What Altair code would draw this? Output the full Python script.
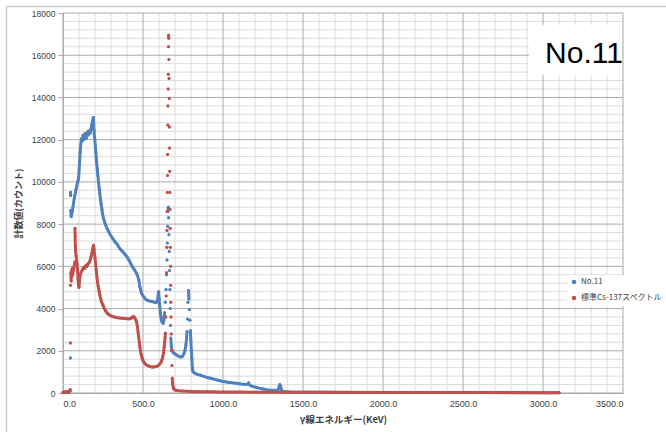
import altair as alt
import pandas as pd

series_names = ["No.11", "標準Cs-137スペクトル"]
series_colors = ["#4F81BD", "#C0504D"]

no11_energy = [0, 10, 20, 30, 40, 44, 46,
    47, 48, 49, 51, 54, 58, 62, 66, 70, 74, 78, 82, 86, 90, 94, 98, 101, 104, 107, 110, 113,
    117, 121, 125, 129, 133, 137, 141, 145, 149, 153, 157, 161, 165, 169, 173, 177, 181, 184,
    187, 190, 192, 194, 196, 199, 202, 205, 208, 211, 214, 218, 222, 226, 230, 234, 238, 243,
    248, 254, 260, 267, 275, 285, 297, 310, 323, 337, 350, 362, 375, 388, 400, 412, 424, 436,
    448, 458, 466, 474, 480, 486, 492, 500, 510, 520, 530, 545, 560, 575, 585, 592, 596, 598,
    601, 605, 610, 615, 620, 625, 630, 635, 639,
    644, 647, 650, 652, 654, 656, 658, 660, 662, 664, 666, 668, 670, 672, 674, 677,
    682, 690, 700, 710, 720, 730, 740, 748, 755, 762, 768, 772, 775,
    778, 781, 784, 787, 790, 793, 796, 799, 802, 805, 808, 811,
    815, 825, 840, 860, 880, 900, 920, 940, 960, 980, 1000, 1020, 1040, 1060, 1080, 1100,
    1120, 1140, 1155, 1160, 1165, 1175, 1190, 1210, 1230, 1250, 1270, 1290, 1310, 1330,
    1345, 1350, 1355, 1360, 1365, 1372, 1385, 1420, 1500, 1600, 1800, 2000, 2200, 2400,
    2600, 2800, 3000, 3100]
no11_count = [30, 30, 35, 40, 50, 80, 1660,
    9500, 9350, 8650, 8350, 8450, 8600, 8800, 9000, 9200, 9350, 9500, 9650, 9800, 9950, 10050,
    10200, 10600, 11000, 11400, 11700, 11900,
    12050, 11950, 12200, 12000, 12250, 12100, 12300, 12050, 12300, 12200, 12400, 12250, 12350,
    12300, 12450, 12600, 12750, 12850,
    12950, 13050, 12750, 12450, 12200, 12000, 11700, 11400, 11100, 10850, 10600, 10300, 10000,
    9700, 9450, 9200, 8950, 8700,
    8450, 8250, 8100, 7950, 7800, 7650, 7480, 7330, 7180, 7060, 6900, 6780, 6680, 6560, 6450,
    6300, 6120, 5950,
    5820, 5680, 5550, 5350, 5050, 4850, 4700, 4600, 4500, 4420, 4380, 4350, 4330, 4280, 4300,
    4450, 4700, 4800,
    4450, 4100, 3700, 3450, 3350, 3300, 3420, 3800, 4300,
    4900, 5600, 6300, 7100, 7900, 8600, 8800, 8300, 7500, 6700, 5800, 4900, 4000, 3200, 2600, 2200,
    2000, 1900, 1850, 1800, 1750, 1720, 1700, 1750, 1850, 2000, 2250, 2550, 2900,
    3500, 4300, 4850, 4450, 3950, 3450, 2950, 2500, 2050, 1650, 1250, 1050,
    980, 930, 880, 840, 790, 740, 700, 660, 620, 580, 550, 520, 500, 480, 460, 440,
    420, 400, 420, 480, 400, 340, 300, 260, 220, 190, 160, 140, 130, 120,
    160, 300, 400, 320, 160, 80, 55, 45, 40, 35, 30, 25, 22, 20,
    18, 16, 15, 14]

cs_energy = [0, 5, 10, 15, 20, 25, 30, 35, 40, 43, 45, 46,
    47, 49, 51, 53, 55, 58, 61, 64, 67, 70, 73, 75, 76, 77, 79, 82, 85, 88, 91, 94, 97, 100,
    103, 106, 110, 115, 120, 125, 130, 135, 140, 145, 150, 155, 160, 165, 170, 175, 180, 184,
    188, 191, 194, 197, 200, 204, 208, 212, 216, 220, 225, 230, 236, 242, 250, 258, 267, 276,
    286, 298, 310, 325, 340, 355, 370, 385, 400, 415, 425, 435, 442, 448, 454, 460, 465, 469,
    473, 477, 481, 485, 490, 495, 500, 508, 516, 525, 535, 545, 555, 565, 575, 585, 595, 605,
    612, 618, 623, 628, 632, 636, 640,
    643, 645, 647, 649, 650, 651, 652, 653, 654, 655, 656, 657, 658, 659, 660, 661, 662, 663,
    664, 665, 666, 667, 668, 669, 670, 671, 672, 673, 674, 675, 677, 679, 681, 683,
    686, 690, 695, 700, 720, 750, 800, 850, 900, 1000, 1100, 1200, 1400, 1600, 1800, 2000,
    2200, 2400, 2600, 2800, 3000, 3100]
cs_count = [20, 40, 30, 50, 40, 60, 50, 70, 60, 100, 160, 2370,
    5100, 5700, 5300, 5800, 5500, 5900, 5600, 5800, 5900, 6000, 6200, 7800, 7400, 7000, 6700,
    6500, 6300, 6100, 5800, 5400, 5100, 5000,
    5300, 5500, 5650, 5750, 5800, 5900, 5950, 5900, 6000, 6050, 6000, 6100, 6150, 6200, 6300,
    6450, 6600, 6750,
    6900, 7000, 6800, 6600, 6400, 6100, 5800, 5500, 5250, 5050, 4850, 4650, 4450, 4300, 4150,
    4000, 3880, 3780,
    3720, 3660, 3620, 3590, 3560, 3550, 3540, 3530, 3520, 3510, 3540, 3600, 3620, 3560, 3480,
    3350, 3150, 2900,
    2650, 2400, 2150, 1950, 1780, 1640, 1540, 1430, 1360, 1310, 1280, 1250, 1230, 1230, 1240,
    1260, 1300, 1370,
    1450, 1560, 1700, 1880, 2150, 2450, 2830,
    3600, 4600, 5700, 6900, 7700, 8600, 9500, 10300, 11300, 12700, 13600, 14400, 15100, 16400,
    16950, 16800, 15800, 14900,
    13950, 12600, 11600, 10500, 9500, 8700, 7800, 6900, 6000, 5100, 4300, 3600, 2800, 2000,
    1300, 700,
    380, 230, 170, 140, 110, 90, 75, 65, 58, 50, 45, 40, 35, 30, 28, 25,
    23, 21, 20, 18, 16, 15]

x_major = [0, 500, 1000, 1500, 2000, 2500, 3000, 3500]
x_minor = [100, 200, 300, 400, 600, 700, 800, 900, 1100, 1200, 1300, 1400, 1600, 1700, 1800,
           1900, 2100, 2200, 2300, 2400, 2600, 2700, 2800, 2900, 3100, 3200, 3300, 3400]
y_major = [0, 2000, 4000, 6000, 8000, 10000, 12000, 14000, 16000, 18000]
y_minor = [400, 800, 1200, 1600, 2400, 2800, 3200, 3600, 4400, 4800, 5200, 5600, 6400, 6800,
           7200, 7600, 8400, 8800, 9200, 9600, 10400, 10800, 11200, 11600, 12400, 12800, 13200,
           13600, 14400, 14800, 15200, 15600, 16400, 16800, 17200, 17600]

x_title = "γ線エネルギー(KeV)"
y_title = "計数値(カウント)"
label_text = ["No.11"]

df = pd.concat([
    pd.DataFrame({"energy": no11_energy, "cnt": no11_count, "series": series_names[0]}),
    pd.DataFrame({"energy": cs_energy, "cnt": cs_count, "series": series_names[1]}),
], ignore_index=True)

xscale = alt.Scale(domain=[0, 3500], nice=False, zero=False)
yscale = alt.Scale(domain=[0, 18000], nice=False)
cscale = alt.Scale(domain=series_names, range=series_colors)

MAJOR = "#a9a9a9"
MINOR = "#dcdcdc"

xaxis = alt.Axis(values=x_major, format=".1f", grid=False, ticks=False, labelPadding=6,
                 labelFont="Liberation Sans", labelFontSize=9, labelColor="#404040",
                 domainColor=MAJOR, title=x_title, titleFont="Noto Sans CJK JP",
                 titleFontSize=9.5, titleFontWeight="bold", titleColor="#404040",
                 titleX=280, titleY=26, titleBaseline="middle", titleAlign="center")
yaxis = alt.Axis(values=y_major, format="d", grid=False, tickSize=5, tickColor=MAJOR,
                 labelPadding=3, labelFont="Liberation Sans", labelFontSize=8.5,
                 labelColor="#404040", domainColor=MAJOR, title=y_title,
                 titleFont="Noto Sans CJK JP", titleFontSize=9, titleFontWeight="bold",
                 titleColor="#404040", titleX=-45, titleY=190, titleAngle=-90,
                 titleAlign="center", titleBaseline="middle")

legend = alt.Legend(
    title=None, orient="none", legendX=504, legendY=262, symbolType="circle",
    symbolSize=10, labelFont="Noto Sans CJK JP", labelFontSize=8,
    labelColor="#404040", fillColor="white", padding=3, rowPadding=6,
    labelOffset=3, labelLimit=200)

def vrules(vals, color):
    return alt.Chart(pd.DataFrame({"g": vals})).mark_rule(color=color, strokeWidth=1).encode(
        x=alt.X("g:Q", scale=xscale, axis=xaxis))

def hrules(vals, color):
    return alt.Chart(pd.DataFrame({"g": vals})).mark_rule(color=color, strokeWidth=1).encode(
        y=alt.Y("g:Q", scale=yscale, axis=yaxis))

seg_base = (
    alt.Chart(df)
    .transform_window(prev="lag(cnt)", sort=[alt.SortField("energy")], groupby=["series"])
    .transform_calculate(jump="datum.prev == null || abs(datum.cnt - datum.prev) > 450 ? 1 : 0")
    .transform_window(seg="sum(jump)", sort=[alt.SortField("energy")], groupby=["series"])
)

layers = [vrules(x_minor, MINOR), hrules(y_minor, MINOR), vrules(x_major, MAJOR), hrules(y_major, MAJOR)]

label_df = pd.DataFrame({"t": label_text})
box = alt.Chart(label_df).mark_rect(color="white").encode(
    x=alt.value(466), x2=alt.value(559), y=alt.value(12), y2=alt.value(62))
layers.append(box)

for i, name in enumerate(series_names):
    sub = seg_base.transform_filter(alt.datum.series == name)
    line = sub.mark_line(strokeWidth=3, strokeCap="round", strokeJoin="round").encode(
        x=alt.X("energy:Q", scale=xscale, axis=xaxis),
        y=alt.Y("cnt:Q", scale=yscale, axis=yaxis),
        color=alt.Color("series:N", scale=cscale, legend=legend),
        detail="seg:N",
    )
    pts = sub.mark_circle(size=8, opacity=1).encode(
        x=alt.X("energy:Q", scale=xscale, axis=xaxis),
        y=alt.Y("cnt:Q", scale=yscale, axis=yaxis),
        color=alt.Color("series:N", scale=cscale, legend=legend),
    )
    layers += [line, pts]

txt = alt.Chart(label_df).mark_text(font="Liberation Sans", fontSize=30, color="black",
                                    align="center", baseline="alphabetic").encode(
    x=alt.value(521), y=alt.value(49.5), text="t:N")
layers.append(txt)

frame_top = alt.Chart(label_df).mark_rule(color="#cfcfcf", strokeWidth=1.6).encode(
    x=alt.value(-57), x2=alt.value(603), y=alt.value(-6.5))
frame_left = alt.Chart(label_df).mark_rule(color="#cfcfcf", strokeWidth=1.6).encode(
    x=alt.value(-56.5), y=alt.value(-6.5), y2=alt.value(420))
layers += [frame_top, frame_left]

chart = alt.layer(*layers).properties(
    width=560, height=380,
    padding={"left": 63, "top": 13, "right": 43, "bottom": 39},
    autosize=alt.AutoSizeParams(type="none"),
    background="white",
).configure_view(stroke=None)

chart.save("out.html", embed_options={"renderer": "svg", "actions": False})
